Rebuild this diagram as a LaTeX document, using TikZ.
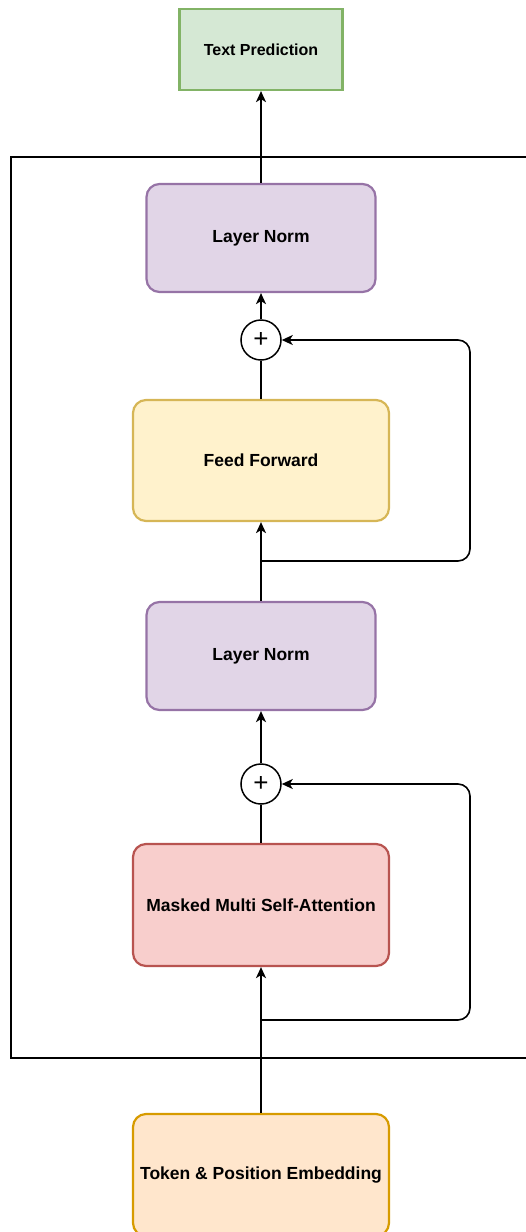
\documentclass[tikz,border=0pt]{standalone}
\usepackage{fontspec}
\setmainfont{Liberation Sans}
\usetikzlibrary{arrows.meta}
\definecolor{greenF}{HTML}{D5E8D4}\definecolor{greenD}{HTML}{82B366}
\definecolor{purpF}{HTML}{E1D5E7}\definecolor{purpD}{HTML}{9673A6}
\definecolor{yelF}{HTML}{FFF2CC}\definecolor{yelD}{HTML}{D6B656}
\definecolor{redF}{HTML}{F8CECC}\definecolor{redD}{HTML}{B85450}
\definecolor{orgF}{HTML}{FFE6CC}\definecolor{orgD}{HTML}{D79B00}
\begin{document}
\begin{tikzpicture}[x=1pt,y=-1pt,
  block/.style={draw, line width=2.2pt, rounded corners=13pt, inner sep=0pt,
    font=\fontsize{17.5}{20}\selectfont\bfseries},
  sumnode/.style={draw, circle, line width=1.5pt, minimum size=40pt, inner sep=0pt,
    font=\fontsize{26}{26}\selectfont},
  conn/.style={line width=1.6pt},
  arr/.style={conn, -{Stealth[length=11pt,width=10pt,inset=3pt]}},
  loop/.style={arr, rounded corners=12pt}]
\useasboundingbox (0,0) rectangle (525,1232);
% transformer block frame
\draw[line width=2.6pt] (11,157) rectangle (540,1058);
% boxes
\node[block, sharp corners, fill=greenF, draw=greenD, minimum width=163pt, minimum height=81pt, font=\fontsize{16}{19}\selectfont\bfseries] (pred) at (261,49.5) {Text Prediction};
\node[block, fill=purpF, draw=purpD, minimum width=229pt, minimum height=108pt] (ln1) at (261,238) {Layer Norm};
\node[sumnode] (add1) at (261,340) {+};
\node[block, fill=yelF, draw=yelD, minimum width=256pt, minimum height=121pt] (ff) at (261,460.5) {Feed Forward};
\node[block, fill=purpF, draw=purpD, minimum width=229pt, minimum height=108pt] (ln2) at (261,656) {Layer Norm};
\node[sumnode] (add2) at (261,784) {+};
\node[block, fill=redF, draw=redD, minimum width=256pt, minimum height=122pt] (mmsa) at (261,905) {Masked Multi Self-Attention};
\node[block, fill=orgF, draw=orgD, minimum width=256pt, minimum height=122pt] (emb) at (261,1175) {Token \& Position Embedding};
% residual branch points
\coordinate (b1) at (261,561);
\coordinate (b2) at (261,1020);
% connectors
\draw[arr] (ln1.north) -- (pred.south);
\draw[arr] (add1.north) -- (ln1.south);
\draw[conn] (ff.north) -- (add1.south);
\draw[arr] (ln2.north) -- (ff.south);
\draw[loop] (b1) -- (470,561) -- (470,340) -- (add1.east);
\draw[arr] (add2.north) -- (ln2.south);
\draw[conn] (mmsa.north) -- (add2.south);
\draw[arr] (emb.north) -- (mmsa.south);
\draw[loop] (b2) -- (470,1020) -- (470,784) -- (add2.east);
\end{tikzpicture}
\end{document}
